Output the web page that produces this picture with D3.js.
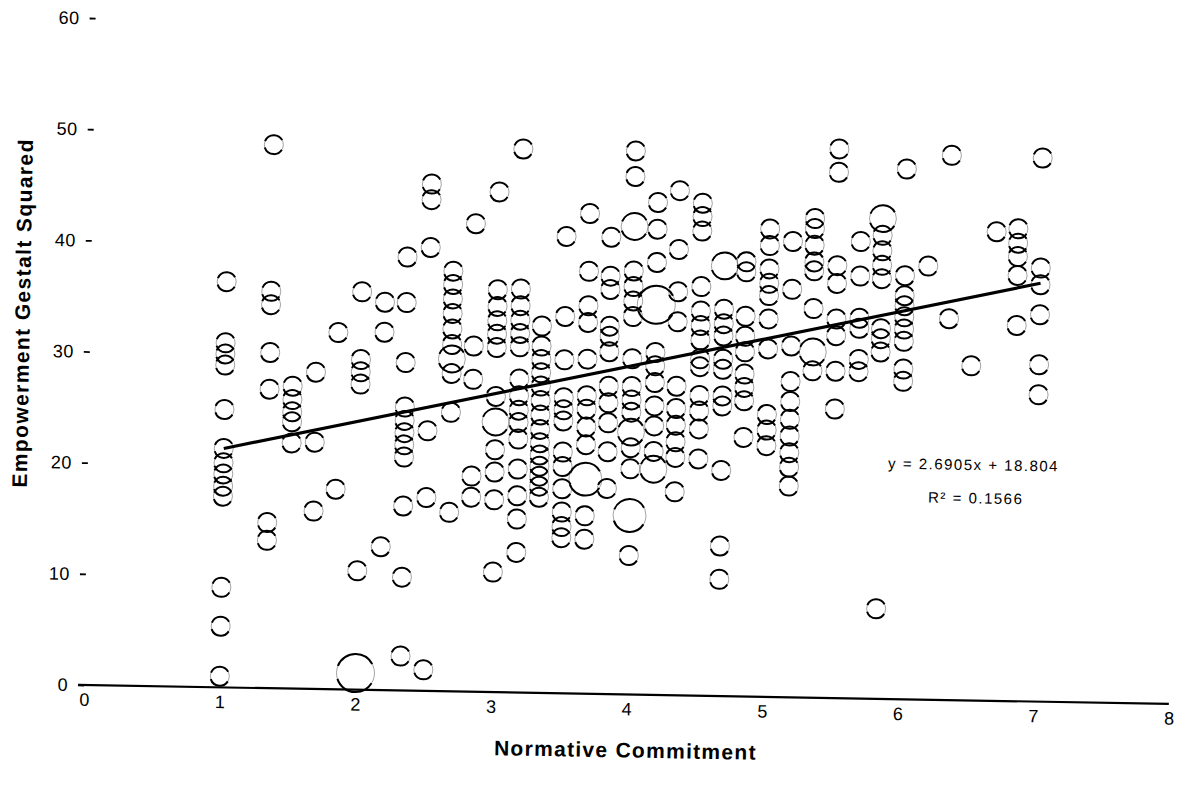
<!DOCTYPE html>
<html>
<head>
<meta charset="utf-8">
<script src="https://cdn.jsdelivr.net/npm/d3@7"></script>
<style>
  body { margin: 0; background: #fff; }
  svg { display: block; }
  text { font-family: "Liberation Sans", Arial, sans-serif; fill: #000; }
</style>
</head>
<body>
<svg id="chart" width="1178" height="791"></svg>
<script>
// Normative commitment is a mean of six items, so respondents fall on levels k/6.
const commitmentLevels = [1, 1.33, 1.5, 1.67, 1.83, 2, 2.17, 2.33, 2.5, 2.67, 2.83,
  3, 3.17, 3.33, 3.5, 3.67, 3.83, 4, 4.17, 4.33, 4.5, 4.67, 4.83,
  5, 5.17, 5.33, 5.5, 5.67, 5.83, 6, 6.17, 6.33, 6.5, 6.67, 6.83, 7];

// Empowerment gestalt squared for single respondents at each commitment level.
const empowermentByLevel = [
  [1.0, 5.5, 9.0, 17.2, 18.1, 19.2, 20.2, 21.5, 25.0, 29.0, 30.0, 31.0, 36.5],
  [13.3, 14.9, 26.9, 30.2, 34.5, 35.7, 48.9],
  [22.1, 24.0, 24.9, 26.0, 27.2],
  [16.0, 22.2, 28.5],
  [18.0, 32.1],
  [10.7, 27.5, 28.6, 29.7, 35.8],
  [12.9, 32.2, 34.9],
  [3.1, 10.2, 16.6, 21.0, 22.1, 23.2, 24.3, 25.5, 29.5, 34.9, 39.0],
  [1.9, 17.4, 23.4, 39.9, 44.2, 45.6],
  [16.1, 25.1, 28.6, 31.2, 32.6, 34.0, 35.3, 36.6, 37.8],
  [17.5, 19.4, 28.1, 31.1, 42.1],
  [10.8, 17.3, 19.8, 21.8, 26.6, 31.0, 32.2, 33.4, 34.7, 36.2, 45.0],
  [12.6, 15.6, 17.7, 20.1, 22.8, 24.3, 25.4, 26.7, 28.2, 31.1, 32.3, 33.5, 34.8, 36.3, 48.9],
  [17.6, 18.6, 19.5, 20.4, 21.4, 22.5, 23.7, 25.0, 26.3, 27.6, 28.8, 30.0, 31.2, 33.0],
  [14.0, 15.0, 16.3, 18.4, 20.4, 21.7, 24.5, 25.5, 26.6, 30.0, 33.9, 41.1],
  [13.9, 16.0, 22.4, 24.0, 25.6, 26.8, 30.1, 33.4, 34.9, 38.0, 43.2],
  [18.5, 21.8, 24.4, 26.2, 27.7, 30.8, 32.2, 33.1, 36.4, 37.6, 41.1],
  [12.5, 20.3, 22.2, 25.4, 26.5, 27.7, 30.2, 34.0, 35.4, 36.7, 38.1, 46.6, 48.9],
  [21.9, 24.2, 26.0, 28.1, 29.6, 30.8, 38.9, 41.9, 44.3],
  [18.3, 21.4, 22.8, 24.3, 25.8, 27.8, 33.6, 36.3, 40.1, 45.4],
  [21.3, 24.0, 25.6, 27.0, 29.6, 30.3, 32.0, 33.3, 34.6, 36.8, 41.8, 43.1, 44.3],
  [10.5, 13.5, 20.3, 26.1, 27.0, 29.4, 30.3, 32.4, 33.5, 34.8],
  [23.3, 26.6, 27.8, 29.0, 31.0, 32.4, 34.2, 38.2, 39.1],
  [22.6, 24.0, 25.4, 31.3, 34.0, 36.1, 37.2, 38.5, 40.6, 42.1],
  [19.0, 20.7, 22.0, 23.5, 25.0, 26.6, 28.4, 31.6, 36.7, 41.0],
  [29.4, 35.0, 38.4, 39.2, 40.7, 42.2, 43.1],
  [26.0, 29.4, 32.6, 34.1, 37.3, 38.9, 47.3, 49.4],
  [29.4, 30.5, 33.3, 34.2, 38.0, 41.1],
  [8.1, 31.2, 32.4, 33.3, 37.8, 39.0, 40.3, 41.7],
  [28.6, 29.7, 32.2, 33.3, 34.4, 35.4, 36.3, 38.1, 47.7],
  [39.0],
  [34.3, 49.0],
  [30.1],
  [42.2],
  [33.8, 38.3, 40.0, 41.2, 42.5],
  [27.6, 30.3, 34.8, 37.5, 39.0, 48.9]
];

// Coinciding respondents: [commitment, empowerment, number of respondents].
const coincident = [
  [2, 1.5, 4], [2.67, 29.9, 2], [3, 24.3, 2], [3.67, 19.3, 3],
  [4, 42.1, 2], [4, 23.6, 2], [4, 16.1, 3], [4.17, 35.1, 4], [4.17, 20.3, 2],
  [4.67, 38.7, 2], [5.33, 31.1, 2], [5.83, 43.2, 2]
];

// Least-squares trend line fitted over the observed commitment range.
const trendSlope = 2.6905;
const trendIntercept = 18.804;
const trendR2 = 0.1566;
const trendRange = [1, 7];

const xTicks = [0, 1, 2, 3, 4, 5, 6, 7, 8];
const yTicks = [0, 10, 20, 30, 40, 50, 60];

const xTitle = "Normative Commitment";
const yTitle = "Empowerment Gestalt Squared";

// ---- drawing ----
const svg = d3.select("#chart");
const x = d3.scaleLinear().domain([0, 8]).range([84, 1169]);
const y = d3.scaleLinear().domain([0, 60]).range([685, 18]);
const baseR = 9.5;

// the printed page sits slightly askew
const g = svg.append("g").attr("transform", `rotate(1, ${x(0)}, ${y(0)})`);

// y axis: labels with short dashes, no spine
const yAxis = g.append("g")
  .attr("transform", `translate(${x(0)},0)`)
  .call(d3.axisLeft(y).tickValues(yTicks).tickSize(6).tickPadding(10).tickFormat(d3.format("d")));
yAxis.select(".domain").remove();
yAxis.selectAll(".tick line").attr("stroke", "#000").attr("stroke-width", 1.8);
yAxis.selectAll(".tick text").style("font-size", "18px").attr("letter-spacing", 0.5);

// x axis: labels only, baseline drawn separately
const xAxis = g.append("g")
  .attr("transform", `translate(0,${y(0)})`)
  .call(d3.axisBottom(x).tickValues(xTicks).tickSize(0).tickPadding(8).tickFormat(d3.format("d")));
xAxis.select(".domain").remove();
xAxis.selectAll(".tick text").style("font-size", "18px");

g.append("line")
  .attr("x1", x(0) - 6).attr("x2", x(8))
  .attr("y1", y(0)).attr("y2", y(0))
  .attr("stroke", "#000").attr("stroke-width", 2.2);

// points
const points = [];
commitmentLevels.forEach((c, i) => {
  empowermentByLevel[i].forEach(v => points.push({ c, v, n: 1 }));
});
coincident.forEach(([c, v, n]) => points.push({ c, v, n }));

const rOf = n => baseR * Math.sqrt(n);
// top and bottom arcs print heavier than the sides
const arcDash = r => {
  const a = 0.55, b = 0.35, p = Math.PI;
  return [0, a * r, (p - a - b) * r, 2 * b * r, (p - a - b) * r, a * r].join(" ");
};

const marks = g.append("g").attr("fill", "none").attr("stroke", "#000");
marks.selectAll("circle.side")
  .data(points).join("circle")
  .attr("class", "side")
  .attr("cx", d => x(d.c)).attr("cy", d => y(d.v)).attr("r", d => rOf(d.n))
  .attr("stroke-width", 0.6).attr("stroke-opacity", 0.6);
marks.selectAll("circle.rim")
  .data(points).join("circle")
  .attr("class", "rim")
  .attr("cx", d => x(d.c)).attr("cy", d => y(d.v)).attr("r", d => rOf(d.n))
  .attr("stroke-width", 2.0)
  .attr("stroke-dasharray", d => arcDash(rOf(d.n)));

// trend line
g.append("line")
  .attr("x1", x(trendRange[0])).attr("y1", y(trendSlope * trendRange[0] + trendIntercept))
  .attr("x2", x(trendRange[1])).attr("y2", y(trendSlope * trendRange[1] + trendIntercept))
  .attr("stroke", "#000").attr("stroke-width", 3.2);

// trend equation
g.append("text")
  .attr("x", x(6.53)).attr("y", y(21.2)).attr("dy", "0.35em")
  .attr("text-anchor", "middle").style("font-size", "15px").attr("letter-spacing", 1.5)
  .text(`y = ${trendSlope}x + ${trendIntercept}`);
g.append("text")
  .attr("x", x(6.55)).attr("y", y(18.2)).attr("dy", "0.35em")
  .attr("text-anchor", "middle").style("font-size", "15px").attr("letter-spacing", 1.5)
  .text(`R² = ${trendR2}`);

// axis titles
g.append("text")
  .attr("x", x(4)).attr("y", 748)
  .attr("text-anchor", "middle")
  .style("font-size", "21px").style("font-weight", "bold").attr("letter-spacing", 1.3)
  .text(xTitle);
g.append("text")
  .attr("transform", "translate(16,314) rotate(-90)")
  .attr("text-anchor", "middle").attr("dy", "0.35em")
  .style("font-size", "21px").style("font-weight", "bold").attr("letter-spacing", 1.4)
  .text(yTitle);
</script>
</body>
</html>
